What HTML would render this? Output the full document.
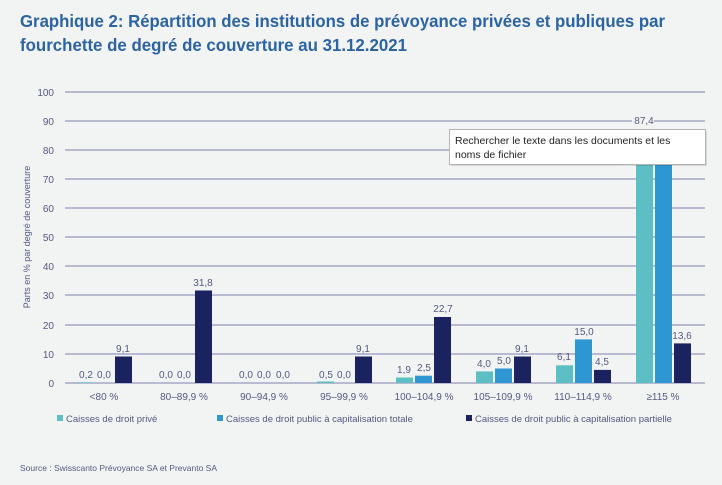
<!DOCTYPE html>
<html><head><meta charset="utf-8"><style>
body{margin:0;background:#f2f3f3;}
svg{display:block;font-family:"Liberation Sans",sans-serif;}
</style></head><body>
<svg width="722" height="485" viewBox="0 0 722 485">
<rect width="722" height="485" fill="#f2f3f3"/>
<text x="20" y="27" font-size="17.5" font-weight="bold" fill="#2b63a3" textLength="645" lengthAdjust="spacingAndGlyphs">Graphique 2: Répartition des institutions de prévoyance privées et publiques par</text>
<text x="20" y="51" font-size="17.5" font-weight="bold" fill="#2b63a3" textLength="387" lengthAdjust="spacingAndGlyphs">fourchette de degré de couverture au 31.12.2021</text>
<g stroke="#9597bd" stroke-width="1.3">
<line x1="65" x2="705" y1="92" y2="92"/><line x1="65" x2="705" y1="121" y2="121"/>
<line x1="65" x2="705" y1="150" y2="150"/><line x1="65" x2="705" y1="179" y2="179"/>
<line x1="65" x2="705" y1="208" y2="208"/><line x1="65" x2="705" y1="237" y2="237"/>
<line x1="65" x2="705" y1="266" y2="266"/><line x1="65" x2="705" y1="295" y2="295"/>
<line x1="65" x2="705" y1="325" y2="325"/><line x1="65" x2="705" y1="354" y2="354"/>
<line x1="65" x2="705" y1="383" y2="383"/>
</g>
<g font-size="10" fill="#555a80" text-anchor="end">
<text x="54" y="96">100</text><text x="54" y="125">90</text><text x="54" y="154">80</text>
<text x="54" y="183">70</text><text x="54" y="212">60</text><text x="54" y="241">50</text>
<text x="54" y="270">40</text><text x="54" y="299">30</text><text x="54" y="329">20</text>
<text x="54" y="358">10</text><text x="54" y="387">0</text>
</g>
<text transform="translate(30,237) rotate(-90)" font-size="9" fill="#555a80" text-anchor="middle">Parts en % par degré de couverture</text>
<g>
<rect x="77" y="382.4" width="17" height="0.6" fill="#5bbfc4"/>
<rect x="115" y="356.5" width="17" height="26.5" fill="#1b2260"/>
<rect x="195" y="290.5" width="17" height="92.5" fill="#1b2260"/>
<rect x="317" y="381.5" width="17" height="1.5" fill="#5bbfc4"/>
<rect x="355" y="356.5" width="17" height="26.5" fill="#1b2260"/>
<rect x="396" y="377.5" width="17" height="5.5" fill="#5bbfc4"/>
<rect x="415" y="375.7" width="17" height="7.3" fill="#2e96d0"/>
<rect x="434" y="317" width="17" height="66" fill="#1b2260"/>
<rect x="476" y="371.4" width="17" height="11.6" fill="#5bbfc4"/>
<rect x="495" y="368.5" width="17" height="14.5" fill="#2e96d0"/>
<rect x="514" y="356.5" width="17" height="26.5" fill="#1b2260"/>
<rect x="556" y="365.3" width="17" height="17.7" fill="#5bbfc4"/>
<rect x="575" y="339.4" width="17" height="43.6" fill="#2e96d0"/>
<rect x="594" y="369.9" width="17" height="13.1" fill="#1b2260"/>
<rect x="636" y="129" width="17" height="254" fill="#5bbfc4"/>
<rect x="655" y="129" width="17" height="254" fill="#2e96d0"/>
<rect x="674" y="343.4" width="17" height="39.6" fill="#1b2260"/>
</g>
<g font-size="10" fill="#555a80" text-anchor="middle">
<text x="86" y="378">0,2</text><text x="104" y="378">0,0</text><text x="123" y="352">9,1</text>
<text x="166" y="378">0,0</text><text x="184" y="378">0,0</text><text x="203" y="286">31,8</text>
<text x="246" y="378">0,0</text><text x="264" y="378">0,0</text><text x="283" y="378">0,0</text>
<text x="326" y="378">0,5</text><text x="344" y="378">0,0</text><text x="363" y="352">9,1</text>
<text x="404" y="373">1,9</text><text x="424" y="371">2,5</text><text x="443" y="312">22,7</text>
<text x="484" y="367">4,0</text><text x="504" y="364">5,0</text><text x="522" y="352">9,1</text>
<text x="564" y="360">6,1</text><text x="584" y="335">15,0</text><text x="602" y="365">4,5</text>
<rect x="632" y="114" width="22" height="12" fill="#f2f3f3"/>
<text x="644" y="124">87,4</text><text x="682" y="339">13,6</text>
</g>
<g font-size="10" fill="#555a80" text-anchor="middle">
<text x="104" y="400">&lt;80 %</text>
<text x="184" y="400">80–89,9 %</text><text x="264" y="400">90–94,9 %</text>
<text x="344" y="400">95–99,9 %</text><text x="424" y="400">100–104,9 %</text>
<text x="503" y="400">105–109,9 %</text><text x="583" y="400">110–114,9 %</text>
<text x="663" y="400">≥115 %</text>
</g>
<g font-size="9.5" fill="#555a80">
<rect x="57" y="415" width="6" height="6" fill="#5bbfc4"/><text x="66" y="422">Caisses de droit privé</text>
<rect x="217" y="415" width="6" height="6" fill="#2e96d0"/><text x="226" y="422">Caisses de droit public à capitalisation totale</text>
<rect x="466" y="415" width="6" height="6" fill="#1b2260"/><text x="475" y="422">Caisses de droit public à capitalisation partielle</text>
</g>
<text x="20" y="471" font-size="8.5" fill="#555a80">Source : Swisscanto Prévoyance SA et Prevanto SA</text>
<rect x="451" y="131" width="256" height="35" fill="#000" opacity="0.12"/>
<rect x="449.5" y="129.5" width="256" height="35" fill="#fff" stroke="#b5b5b5"/>
<text x="455" y="144" font-size="10.5" fill="#222">Rechercher le texte dans les documents et les</text>
<text x="455" y="158" font-size="10.5" fill="#222">noms de fichier</text>
</svg>
</body></html>
